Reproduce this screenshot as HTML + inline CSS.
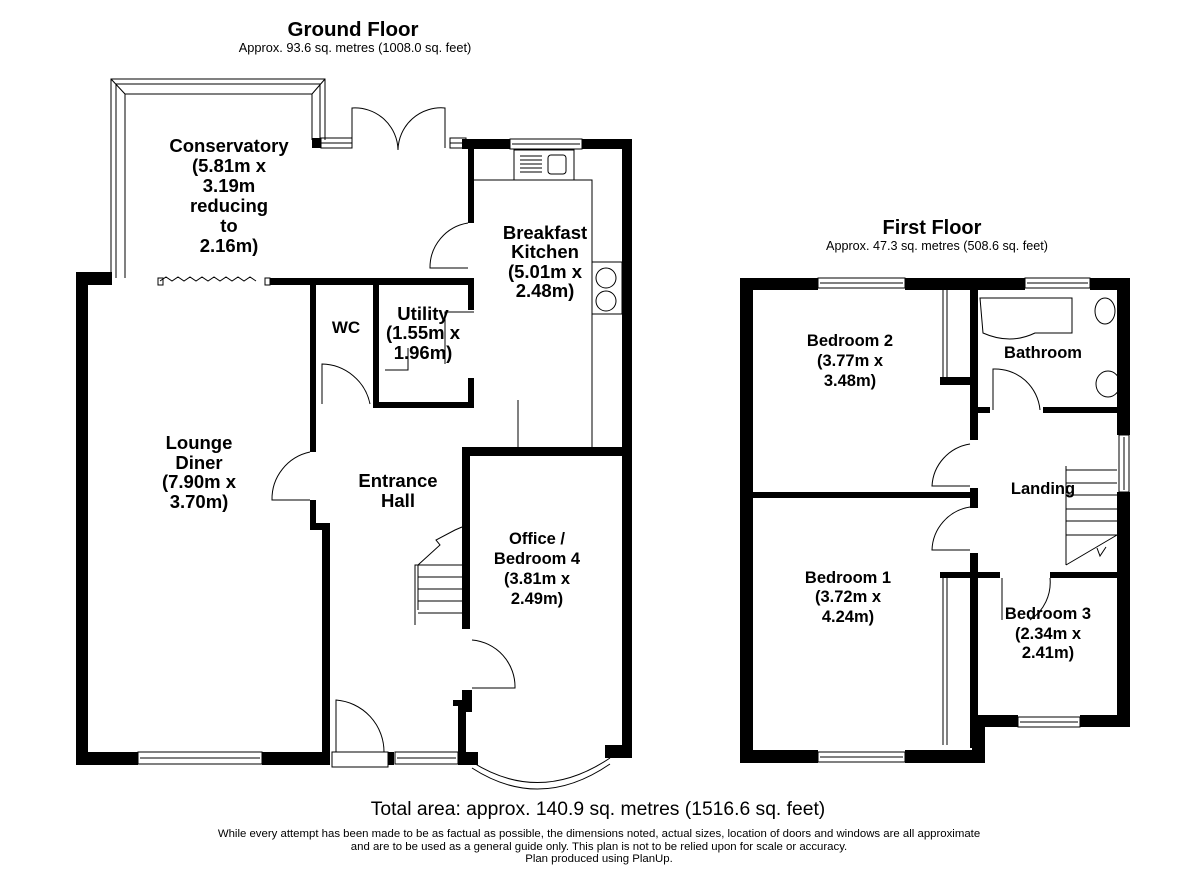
<!DOCTYPE html>
<html><head><meta charset="utf-8"><style>
html,body{margin:0;padding:0;background:#fff;}
svg{display:block;font-family:"Liberation Sans",Arial,sans-serif;}
.b{font-weight:bold;font-size:16.5px;}
.g{font-size:18.5px;}
</style></head><body>
<svg width="1200" height="873" viewBox="0 0 1200 873">
<rect width="1200" height="873" fill="#fff"/>
<text x="353" y="36" text-anchor="middle" font-weight="bold" font-size="20.5">Ground Floor</text>
<text x="355" y="52" text-anchor="middle" font-size="12.8">Approx. 93.6 sq. metres (1008.0 sq. feet)</text>
<text x="932" y="234" text-anchor="middle" font-weight="bold" font-size="20">First Floor</text>
<text x="937" y="250" text-anchor="middle" font-size="12.6">Approx. 47.3 sq. metres (508.6 sq. feet)</text>

<g fill="#000">
<rect x="76" y="272" width="12" height="493"/>
<rect x="76" y="272" width="36" height="13"/>
<rect x="76" y="752" width="62" height="13"/>
<rect x="262" y="752" width="68" height="13"/>
<rect x="270" y="278" width="204" height="7"/>
<rect x="310" y="278" width="6" height="174"/>
<rect x="310" y="500" width="6" height="30"/>
<rect x="310" y="523" width="20" height="7"/>
<rect x="322" y="523" width="8" height="242"/>
<rect x="373" y="278" width="6" height="130"/>
<rect x="373" y="402" width="101" height="6"/>
<rect x="468" y="278" width="6" height="32"/>
<rect x="468" y="378" width="6" height="30"/>
<rect x="462" y="139" width="48" height="10"/>
<rect x="582" y="139" width="50" height="10"/>
<rect x="468" y="139" width="6" height="84"/>
<rect x="622" y="139" width="10" height="619"/>
<rect x="312" y="138" width="9" height="10"/>
<rect x="462" y="447" width="170" height="9"/>
<rect x="462" y="447" width="8" height="182"/>
<rect x="462" y="690" width="10" height="22"/>
<rect x="453" y="700" width="12" height="6"/>
<rect x="458" y="700" width="8" height="65"/>
<rect x="458" y="752" width="20" height="13"/>
<rect x="605" y="745" width="27" height="13"/>
<rect x="388" y="752" width="6" height="13"/>

<rect x="740" y="278" width="13" height="485"/>
<rect x="740" y="278" width="78" height="12"/>
<rect x="905" y="278" width="120" height="12"/>
<rect x="1090" y="278" width="40" height="12"/>
<rect x="1117" y="278" width="13" height="157"/>
<rect x="1117" y="492" width="13" height="235"/>
<rect x="1080" y="715" width="50" height="12"/>
<rect x="975" y="715" width="43" height="12"/>
<rect x="972" y="715" width="13" height="48"/>
<rect x="740" y="750" width="78" height="13"/>
<rect x="905" y="750" width="80" height="13"/>
<rect x="753" y="492" width="225" height="6"/>
<rect x="970" y="290" width="8" height="150"/>
<rect x="970" y="488" width="8" height="20"/>
<rect x="970" y="553" width="8" height="195"/>
<rect x="940" y="377" width="35" height="8"/>
<rect x="940" y="572" width="60" height="6"/>
<rect x="1050" y="572" width="67" height="6"/>
<rect x="975" y="407" width="15" height="6"/>
<rect x="1043" y="407" width="74" height="6"/>
</g>

<g fill="none" stroke="#000" stroke-width="1">
<path d="M111 278 V79 H325 V140 M116 278 V84 H320 V140 M125 278 V94 H312 V140 M111 79 L125 94 M325 79 L312 94"/>
<rect x="321" y="138" width="31" height="10"/>
<line x1="321" y1="143" x2="352" y2="143"/>
<rect x="450" y="138" width="16" height="10"/>
<line x1="450" y1="143" x2="466" y2="143"/>
<path d="M352 148 V108 A43 43 0 0 1 398 150 M445 148 V108 A43 43 0 0 0 398 150"/>
<path d="M160 281 l6 -4 6 4 6 -4 6 4 6 -4 6 4 6 -4 6 4 6 -4 6 4 6 -4 6 4 6 -4 6 4 6 -4 6 4"/>
<rect x="158" y="278" width="5" height="7"/><rect x="265" y="278" width="5" height="7"/>
<rect x="510" y="139" width="72" height="10"/>
<line x1="512" y1="144" x2="580" y2="144"/>
<rect x="514" y="150" width="60" height="30"/>
<path d="M520 156 h22 M520 160 h22 M520 164 h22 M520 168 h22 M520 172 h22"/>
<rect x="548" y="155" width="18" height="19" rx="3"/>
<path d="M474 180 H592 V447 M518 447 V400"/>
<rect x="592" y="262" width="30" height="52"/>
<circle cx="606" cy="278" r="10"/><circle cx="606" cy="301" r="10"/>
<path d="M468 223 A45 45 0 0 0 430 268 H468"/>
<path d="M474 312 H445 V364 M385 370 H408 V348"/>
<path d="M322 404 V364 A50 50 0 0 1 370 404"/>
<path d="M310 452 A48 48 0 0 0 272 500 H310"/>
<path d="M415 625 V565 H462 M418 565 V610 M418 613 H462 M418 601 H462 M418 589 H462 M418 577 H462 M418 565 L440 545 L436 540 L455 530 L462 527"/>
<path d="M472 640 A47 47 0 0 1 515 688 H472"/>
<path d="M472 762 Q540 805 610 758 M472 768 Q540 812 610 764"/>
<rect x="332" y="752" width="56" height="15"/>
<path d="M336 752 V700 A52 52 0 0 1 384 752"/>
<rect x="395" y="752" width="63" height="12"/>
<line x1="397" y1="758" x2="456" y2="758"/>
<rect x="138" y="752" width="124" height="12"/>
<line x1="140" y1="758" x2="260" y2="758"/>

<rect x="818" y="278" width="87" height="10"/><line x1="820" y1="283" x2="903" y2="283"/>
<rect x="1025" y="278" width="65" height="10"/><line x1="1027" y1="283" x2="1088" y2="283"/>
<rect x="818" y="752" width="87" height="10"/><line x1="820" y1="757" x2="903" y2="757"/>
<rect x="1018" y="717" width="62" height="10"/><line x1="1020" y1="722" x2="1078" y2="722"/>
<rect x="1119" y="435" width="10" height="57"/><line x1="1124" y1="437" x2="1124" y2="490"/>
<path d="M943 290 V377 M947 290 V377"/>
<path d="M980 298 H1072 V333 H1035 Q1010 345 983 333 Z"/>
<ellipse cx="1105" cy="311" rx="10" ry="13"/>
<ellipse cx="1108" cy="384" rx="12" ry="13"/>
<path d="M993 410 V369 A45 45 0 0 1 1040 410"/>
<path d="M970 444 A45 45 0 0 0 932 486 H970"/>
<path d="M970 507 A45 45 0 0 0 932 550 H970"/>
<path d="M1002 578 V620 M1050 578 A45 45 0 0 1 1030 620"/>
<path d="M1066 466 V565 M1066 470 H1117 M1066 483 H1117 M1066 495 H1117 M1066 509 H1117 M1066 521 H1117 M1066 535 H1117 M1066 565 L1117 535 M1097 548 L1100 556 L1106 547"/>
<path d="M943 578 V745 M947 578 V745"/>
</g>

<g class="b" text-anchor="middle">
<g class="g">
<text x="229" y="152">Conservatory</text>
<text x="229" y="172">(5.81m x</text>
<text x="229" y="192">3.19m</text>
<text x="229" y="212">reducing</text>
<text x="229" y="232">to</text>
<text x="229" y="252">2.16m)</text>
<text x="545" y="239">Breakfast</text>
<text x="545" y="258">Kitchen</text>
<text x="545" y="278">(5.01m x</text>
<text x="545" y="297">2.48m)</text>
<text x="423" y="320">Utility</text>
<text x="423" y="339">(1.55m x</text>
<text x="423" y="359">1.96m)</text>
<text x="199" y="449">Lounge</text>
<text x="199" y="469">Diner</text>
<text x="199" y="488">(7.90m x</text>
<text x="199" y="508">3.70m)</text>
<text x="398" y="487">Entrance</text>
<text x="398" y="507">Hall</text>
</g>
<text x="346" y="333" font-size="17">WC</text>
<text x="537" y="544">Office /</text>
<text x="537" y="564">Bedroom 4</text>
<text x="537" y="584">(3.81m x</text>
<text x="537" y="604">2.49m)</text>
<text x="850" y="346">Bedroom 2</text>
<text x="850" y="366">(3.77m x</text>
<text x="850" y="386">3.48m)</text>
<text x="1043" y="358">Bathroom</text>
<text x="1043" y="494">Landing</text>
<text x="848" y="583">Bedroom 1</text>
<text x="848" y="602">(3.72m x</text>
<text x="848" y="622">4.24m)</text>
<text x="1048" y="619">Bedroom 3</text>
<text x="1048" y="639">(2.34m x</text>
<text x="1048" y="658">2.41m)</text>
</g>
<text x="598" y="815" text-anchor="middle" font-size="19.3">Total area: approx. 140.9 sq. metres (1516.6 sq. feet)</text>
<g text-anchor="middle" font-size="11.4">
<text x="599" y="837">While every attempt has been made to be as factual as possible, the dimensions noted, actual sizes, location of doors and windows are all approximate</text>
<text x="599" y="850">and are to be used as a general guide only. This plan is not to be relied upon for scale or accuracy.</text>
<text x="599" y="862">Plan produced using PlanUp.</text>
</g>
</svg>
</body></html>
